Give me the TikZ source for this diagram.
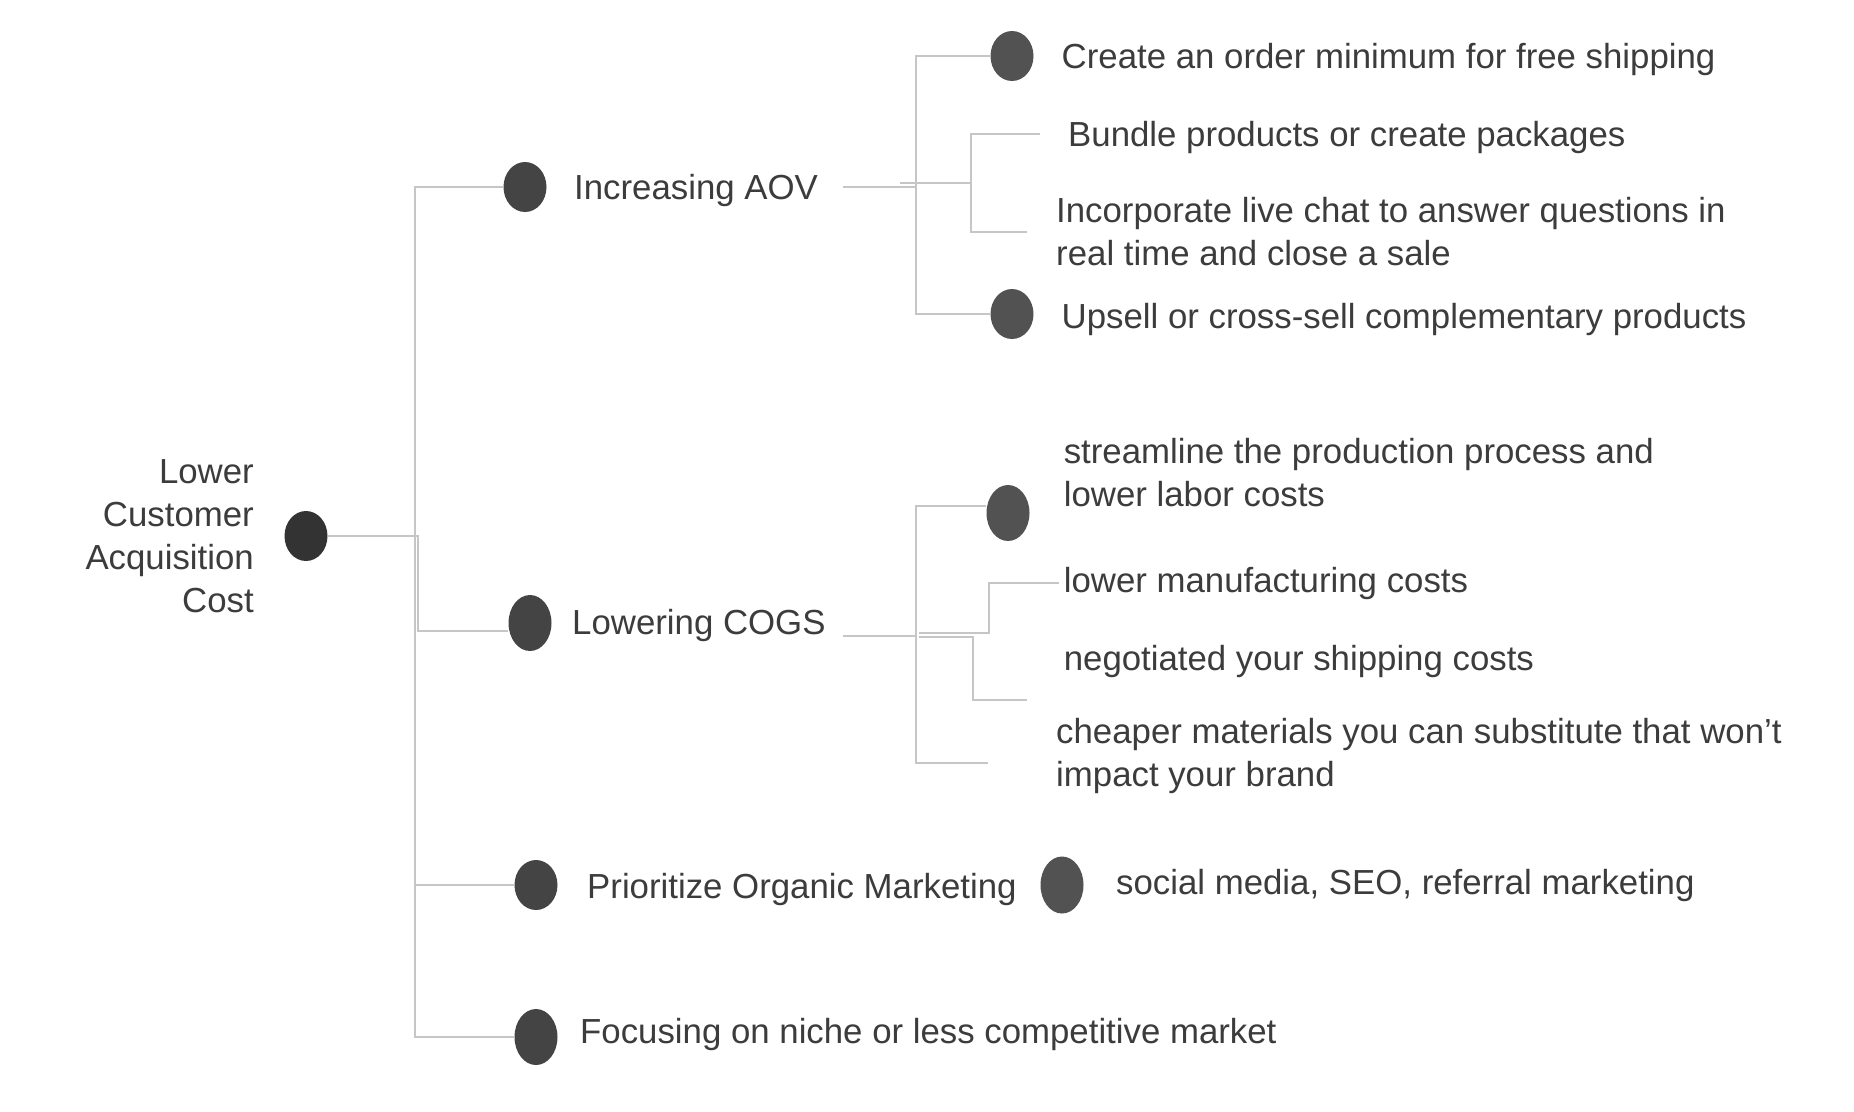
\documentclass[tikz,border=0pt]{standalone}
\usepackage{fontspec}
\setmainfont{Liberation Sans}
\usetikzlibrary{shapes.geometric}
\definecolor{txt}{HTML}{3C3C3C}
\definecolor{dotA}{HTML}{333333}
\definecolor{dotB}{HTML}{444444}
\definecolor{dotC}{HTML}{525252}
\definecolor{linec}{HTML}{C6C6C6}
\pgfdeclarelayer{bg}\pgfsetlayers{bg,main}
\newcommand\twolines[2]{\vtop{\baselineskip=43.5pt\hbox{#1}\hbox{#2}}}
\newcommand\rightstack[1]{\vtop{\baselineskip=43pt\halign{\hfil##\cr#1\cr}}}
\begin{document}
\begin{tikzpicture}[x=1pt,y=-1pt,
 dot/.style={ellipse,inner sep=0pt,minimum width=43pt,minimum height=50pt,fill=dotB},
 conn/.style={draw=linec,line width=2.5pt},
 lbl/.style={anchor=base west,inner sep=0pt,text=txt,font=\fontsize{34.8}{43.5}\selectfont}]
\useasboundingbox (0,0) rectangle (1854,1111);

% dots
\node[dot,fill=dotA] (r) at (306,536) {};
\node[dot] (aov) at (525,187) {};
\node[dot,minimum height=56pt] (cogs) at (530,623) {};
\node[dot] (pri) at (536,885) {};
\node[dot,minimum height=56pt] (foc) at (536,1037) {};
\node[dot,fill=dotC] (c1) at (1012,56) {};
\node[dot,fill=dotC] (c4) at (1012,314) {};
\node[dot,fill=dotC,minimum height=56pt] (s1) at (1008,513) {};
\node[dot,fill=dotC,minimum height=57pt] (p1) at (1062,885) {};

% texts
\node[lbl,anchor=base east] (rt) at (254,483) {\rightstack{Lower\cr Customer\cr Acquisition\cr Cost}};
\node[lbl] (aovt) at (574,199) {Increasing AOV};
\node[lbl] (cogst) at (572,634) {Lowering COGS};
\node[lbl] (prit) at (587,898) {Prioritize Organic Marketing};
\node[lbl] (foct) at (580,1043) {Focusing on niche or less competitive market};
\node[lbl] (t1) at (1061.5,68) {Create an order minimum for free shipping};
\node[lbl] (t2) at (1068,146) {Bundle products or create packages};
\node[lbl] (t3) at (1056,222) {\twolines{Incorporate live chat to answer questions in}{real time and close a sale}};
\node[lbl] (t4) at (1061.5,328) {Upsell or cross-sell complementary products};
\node[lbl] (u1) at (1063.6,463) {\twolines{streamline the production process and}{lower labor costs}};
\node[lbl] (u2) at (1063.6,592) {lower manufacturing costs};
\node[lbl] (u3) at (1063.6,670) {negotiated your shipping costs};
\node[lbl] (u4) at (1056,743) {\twolines{cheaper materials you can substitute that won’t}{impact your brand}};
\node[lbl] (pt) at (1116,894) {social media, SEO, referral marketing};

% junctions
\coordinate (trunk) at (415,536);
\coordinate (rj) at (418,536);
\coordinate (aovs) at (843,187);
\coordinate (aovj) at (916,187);
\coordinate (bs) at (900,183);
\coordinate (bj) at (971,183);
\coordinate (b2) at (1040,134);
\coordinate (b3) at (1027,232);
\coordinate (cs) at (843,636);
\coordinate (cj) at (916,636);
\coordinate (ce) at (988,763);
\coordinate (m0) at (919,633);
\coordinate (mj) at (989,608);
\coordinate (m1) at (1059,583);
\coordinate (n0) at (919,637);
\coordinate (nj) at (973,668);
\coordinate (n1) at (1027,700);

\begin{pgfonlayer}{bg}
\fill[white] (0,0) rectangle (1854,1111);
\draw[conn] (aov.west) -| (trunk) |- (foc.west);
\draw[conn] (r.east) -- (rj) |- ([yshift=-8pt]cogs.west);
\draw[conn] (pri.west) -- (pri.west -| trunk);
\draw[conn] (aovs) -- (aovj);
\draw[conn] (c1.west) -| (aovj) |- (c4.west);
\draw[conn] (bs) -- (bj);
\draw[conn] (b2) -| (bj) |- (b3);
\draw[conn] (cs) -- (cj);
\draw[conn] ([yshift=7pt]s1.west) -| (cj) |- (ce);
\draw[conn] (m0) -| (mj) |- (m1);
\draw[conn] (n0) -| (nj) |- (n1);
\end{pgfonlayer}
\end{tikzpicture}
\end{document}
